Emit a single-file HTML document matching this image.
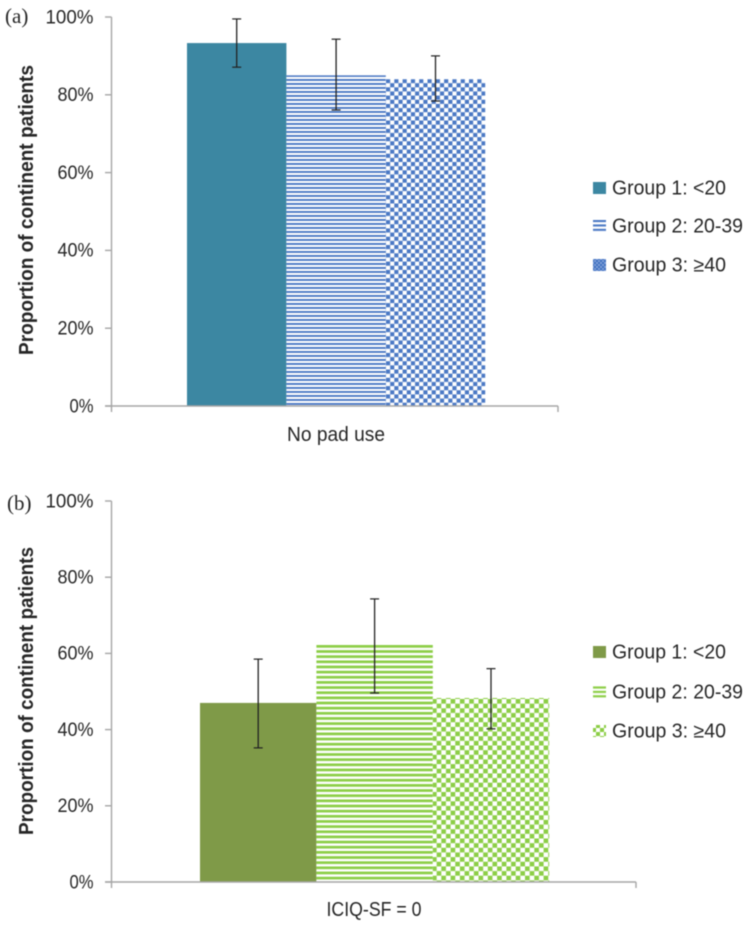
<!DOCTYPE html>
<html>
<head>
<meta charset="utf-8">
<title>Proportion of continent patients</title>
<style>
html,body{margin:0;padding:0;background:#fff;width:751px;height:926px;overflow:hidden}
svg{display:block;filter:blur(0.45px)}
text{font-family:"Liberation Sans",sans-serif;fill:#262626}
</style>
</head>
<body>
<svg id="figure" xmlns="http://www.w3.org/2000/svg" width="751" height="926" viewBox="0 0 751 926">
<defs>
<pattern id="blue-stripes" patternUnits="userSpaceOnUse" width="8" height="4" y="43"><rect width="8" height="4" fill="#fff"/><rect width="8" height="1.9" fill="#4a78c4"/></pattern>
<pattern id="blue-checks" patternUnits="userSpaceOnUse" width="8.3" height="8.3" x="386" y="79"><rect width="8.3" height="8.3" fill="#fff"/><rect width="4.15" height="4.15" fill="#4a78c4"/><rect x="4.15" y="4.15" width="4.15" height="4.15" fill="#4a78c4"/></pattern>
<pattern id="green-stripes" patternUnits="userSpaceOnUse" width="8" height="5.15" y="645"><rect width="8" height="5.15" fill="#fff"/><rect width="8" height="2.7" fill="#8cce46"/></pattern>
<pattern id="green-checks" patternUnits="userSpaceOnUse" width="9.3" height="9.3" x="432" y="699"><rect width="9.3" height="9.3" fill="#fff"/><rect width="4.65" height="4.65" fill="#8cce46"/><rect x="4.65" y="4.65" width="4.65" height="4.65" fill="#8cce46"/></pattern>
<pattern id="blue-stripes-key" patternUnits="userSpaceOnUse" width="8" height="4.4" x="593" y="0"><rect width="8" height="2.1" fill="#4a78c4"/></pattern>
<pattern id="blue-checks-key" patternUnits="userSpaceOnUse" width="4" height="4"><rect width="4" height="4" fill="#7f9fd8"/><rect width="2" height="2" fill="#3f70c0"/><rect x="2" y="2" width="2" height="2" fill="#3f70c0"/></pattern>
<pattern id="green-stripes-key" patternUnits="userSpaceOnUse" width="8" height="4.4"><rect width="8" height="2.2" fill="#8cce46"/></pattern>
<pattern id="green-checks-key" patternUnits="userSpaceOnUse" width="8" height="8"><rect width="8" height="8" fill="#fff"/><rect width="4" height="4" fill="#8cce46"/><rect x="4" y="4" width="4" height="4" fill="#8cce46"/></pattern>
</defs>
</svg>
<script>
var seriesNames = ['Group 1: <20', 'Group 2: 20-39', 'Group 3: \u226540'];
var tickLabels = [0, 20, 40, 60, 80, 100];
var padCategory = 'No pad use';
var padValues = [93.3, 85, 84];
var padErrorHigh = [99.5, 94.3, 90];
var padErrorLow = [87.1, 76.1, 78.4];
var icqCategory = 'ICIQ-SF = 0';
var icqValues = [47, 62.2, 48.3];
var icqErrorHigh = [58.5, 74.3, 56];
var icqErrorLow = [35.2, 49.6, 40.2];

var svg = document.getElementById('figure');
var NS = 'http://www.w3.org/2000/svg';

function make(tag, attrs, name, text) {
  var el = document.createElementNS(NS, tag);
  for (var k in attrs) el.setAttribute(k, attrs[k]);
  
  
  if (text !== undefined) el.textContent = text;
  svg.appendChild(el);
  return el;
}

function drawChart(cfg) {
  function y(v) { return cfg.y0 + (cfg.y100 - cfg.y0) * v / 100; }
  function x(i) { return cfg.barStart + i * cfg.barWidth; }
  var axisColor = '#a6a6a6';

  cfg.values.forEach(function (v, i) {
    make('rect', {x: x(i), y: y(v), width: cfg.barWidth, height: cfg.y0 - y(v), fill: cfg.fills[i]},
      cfg.prefix + '-bar-group-' + (i + 1));
  });

  make('line', {x1: 111.5, x2: 111.5, y1: y(100), y2: cfg.y0 + 6, stroke: axisColor, 'stroke-width': 1.4}, cfg.prefix + '-y-axis');
  make('line', {x1: 105, x2: cfg.axisEnd, y1: cfg.y0, y2: cfg.y0, stroke: axisColor, 'stroke-width': 1.6}, cfg.prefix + '-x-axis');
  make('line', {x1: cfg.axisEnd, x2: cfg.axisEnd, y1: cfg.y0, y2: cfg.y0 + 6, stroke: axisColor, 'stroke-width': 1.4}, cfg.prefix + '-x-axis-end-tick');

  tickLabels.forEach(function (t) {
    make('line', {x1: 105, x2: 111.5, y1: y(t), y2: y(t), stroke: axisColor, 'stroke-width': 1.4}, cfg.prefix + '-y-tick-' + t);
    make('text', {x: 93.5, y: y(t) + 6.3, 'text-anchor': 'end', 'font-size': 19, textLength: (String(t).length + 1) * 12, lengthAdjust: 'spacingAndGlyphs'}, cfg.prefix + '-y-tick-label-' + t, t + '%');
  });

  cfg.values.forEach(function (v, i) {
    var cx = x(i) + cfg.barWidth / 2;
    var hi = y(cfg.high[i]);
    var lo = y(cfg.low[i]);
    make('line', {x1: cx, x2: cx, y1: hi, y2: lo, stroke: '#222', 'stroke-width': 1.3}, cfg.prefix + '-error-bar-' + (i + 1));
    make('line', {x1: cx - 4.5, x2: cx + 4.5, y1: hi, y2: hi, stroke: '#222', 'stroke-width': 1.2}, cfg.prefix + '-error-cap-high-' + (i + 1));
    make('line', {x1: cx - 4.5, x2: cx + 4.5, y1: lo, y2: lo, stroke: '#222', 'stroke-width': 1.2}, cfg.prefix + '-error-cap-low-' + (i + 1));
  });

  make('text', {x: cfg.catX, y: cfg.catY, 'text-anchor': 'middle', 'font-size': 20, textLength: cfg.catLen, lengthAdjust: 'spacingAndGlyphs'}, cfg.prefix + '-category-label', cfg.category);

  make('text', {
    x: 0, y: 0, transform: 'translate(33,' + cfg.titleY + ') rotate(-90)', 'text-anchor': 'middle',
    'font-size': 20, 'font-weight': 'bold', textLength: cfg.titleLen, lengthAdjust: 'spacingAndGlyphs'
  }, cfg.prefix + '-y-axis-title', 'Proportion of continent patients');

  seriesNames.forEach(function (n, i) {
    var ly = cfg.legendY[i];
    make('rect', {x: 593, y: ly - 6, width: 13, height: 12, fill: cfg.keyFills[i]}, cfg.prefix + '-legend-swatch-' + (i + 1));
    make('text', {x: 612, y: ly + 6.5, 'font-size': 20, textLength: cfg.legendLen[i], lengthAdjust: 'spacingAndGlyphs'}, cfg.prefix + '-legend-label-' + (i + 1), n);
  });

  make('text', {x: cfg.panelX, y: cfg.panelY, 'font-size': 21, style: 'font-family:"Liberation Serif",serif'}, cfg.prefix + '-panel-label', cfg.panel);
}

drawChart({
  prefix: 'panel-a', panel: '(a)', panelX: 5, panelY: 23, y0: 406, y100: 17, axisEnd: 558,
  barStart: 187, barWidth: 99.4, values: padValues, high: padErrorHigh, low: padErrorLow,
  fills: ['#3c87a2', 'url(#blue-stripes)', 'url(#blue-checks)'],
  keyFills: ['#3c87a2', 'url(#blue-stripes-key)', 'url(#blue-checks-key)'],
  category: padCategory, catX: 336, catY: 441, catLen: 98, titleY: 210, titleLen: 290,
  legendY: [188, 226, 265], legendLen: [114, 131, 114]
});

drawChart({
  prefix: 'panel-b', panel: '(b)', panelX: 7, panelY: 510, y0: 882, y100: 501, axisEnd: 636,
  barStart: 200, barWidth: 116.4, values: icqValues, high: icqErrorHigh, low: icqErrorLow,
  fills: ['#7f9a48', 'url(#green-stripes)', 'url(#green-checks)'],
  keyFills: ['#7f9a48', 'url(#green-stripes-key)', 'url(#green-checks-key)'],
  category: icqCategory, catX: 374, catY: 916, catLen: 95, titleY: 691, titleLen: 288,
  legendY: [652, 692, 731], legendLen: [114, 131, 114]
});
</script>
</body>
</html>
